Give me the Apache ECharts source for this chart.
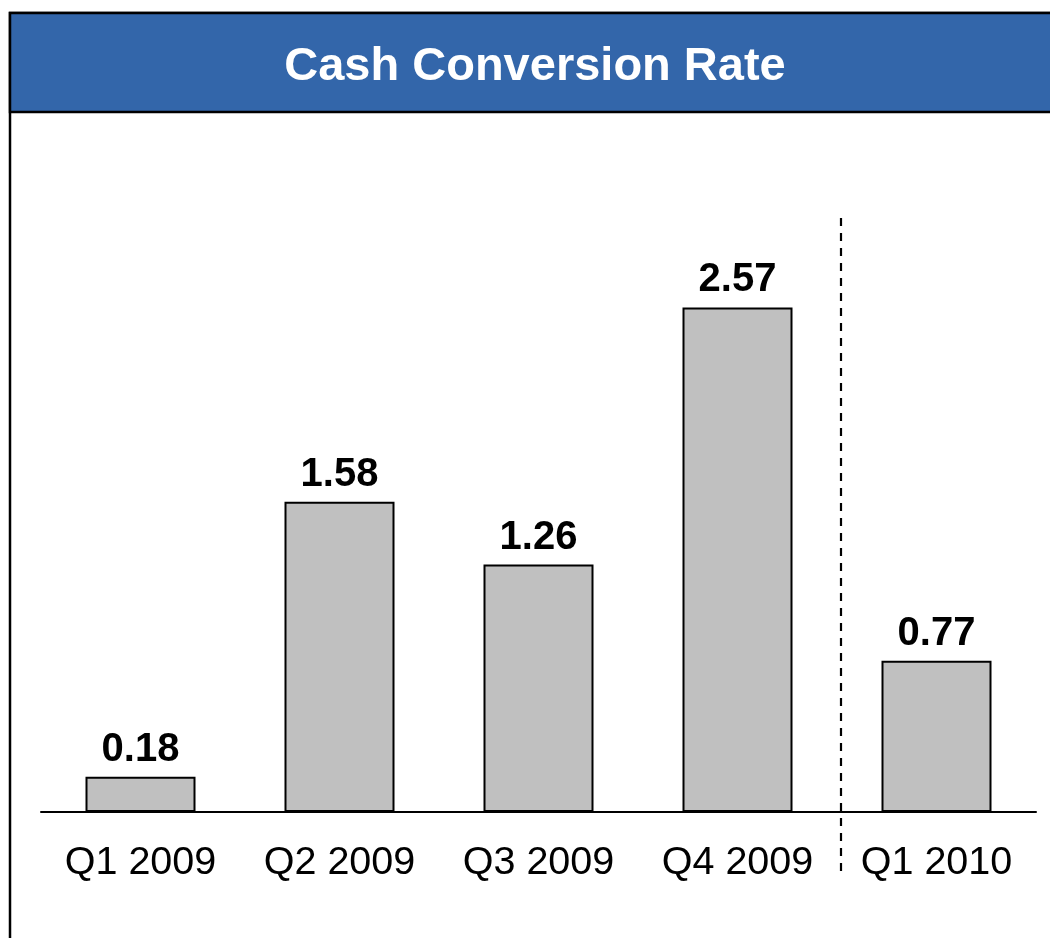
<!DOCTYPE html>
<html>
<head>
<meta charset="utf-8">
<style>
  html, body { margin: 0; padding: 0; background: #fff; }
  #chart { width: 1050px; height: 938px; }
</style>
<script src="https://cdn.jsdelivr.net/npm/echarts@6/dist/echarts.min.js"></script>
</head>
<body>
<div id="chart"></div>
<script>
const quarters = ['Q1 2009', 'Q2 2009', 'Q3 2009', 'Q4 2009', 'Q1 2010'];
const cashRate = [0.18, 1.58, 1.26, 2.57, 0.77];
const titleText = 'Cash Conversion Rate';

const chart = echarts.init(document.getElementById('chart'), null, { renderer: 'canvas' });
const font = 'Liberation Sans, Arial, sans-serif';

const option = {
    backgroundColor: '#ffffff',
    animation: false,
    title: {
        text: titleText,
        left: 530,
        top: 39,
        textAlign: 'center',
        textStyle: { color: '#ffffff', fontSize: 47, fontWeight: 'bold', fontFamily: font },
        z: 10,
    },
    grid: { left: 41, right: 14, top: 223, height: 589 },
    xAxis: {
        type: 'category',
        data: quarters,
        axisLine: { lineStyle: { color: '#000', width: 2 } },
        axisTick: { show: false },
        axisLabel: { color: '#000', fontSize: 39.5, fontFamily: font, margin: 31 },
    },
    yAxis: {
        type: 'value',
        min: 0,
        max: 3,
        show: false,
        splitLine: { show: false },
    },
    series: [
        {
            type: 'bar',
            data: cashRate,
            barWidth: 110,
            itemStyle: { color: '#c0c0c0', borderColor: '#000', borderWidth: 2 },
            label: {
                show: true,
                position: 'top',
                distance: 7,
                color: '#000',
                fontSize: 40,
                fontWeight: 'bold',
                fontFamily: font,
                formatter: (p) => p.value.toFixed(2),
            },
        },
    ],
};

chart.setOption(option);

// frame, title bar and the dashed separator between 2009 and 2010
const x3 = chart.convertToPixel({ xAxisIndex: 0 }, 3);
const x4 = chart.convertToPixel({ xAxisIndex: 0 }, 4);
const sepX = Math.round((x3 + x4) / 2) + 4;

chart.setOption({
    graphic: [
        {
            type: 'rect',
            z: -1,
            shape: { x: 10, y: 13, width: 1100, height: 1000 },
            style: { fill: 'none', stroke: '#000', lineWidth: 2.5 },
        },
        {
            type: 'rect',
            z: 0,
            shape: { x: 10, y: 13, width: 1100, height: 99 },
            style: { fill: '#3366aa', stroke: '#000', lineWidth: 2.5 },
        },
        {
            type: 'line',
            shape: { x1: sepX, y1: 218, x2: sepX, y2: 874 },
            style: { stroke: '#000', lineWidth: 2.2, lineDash: [8, 7] },
        },
    ],
});

window.addEventListener('resize', () => chart.resize());
</script>
</body>
</html>
